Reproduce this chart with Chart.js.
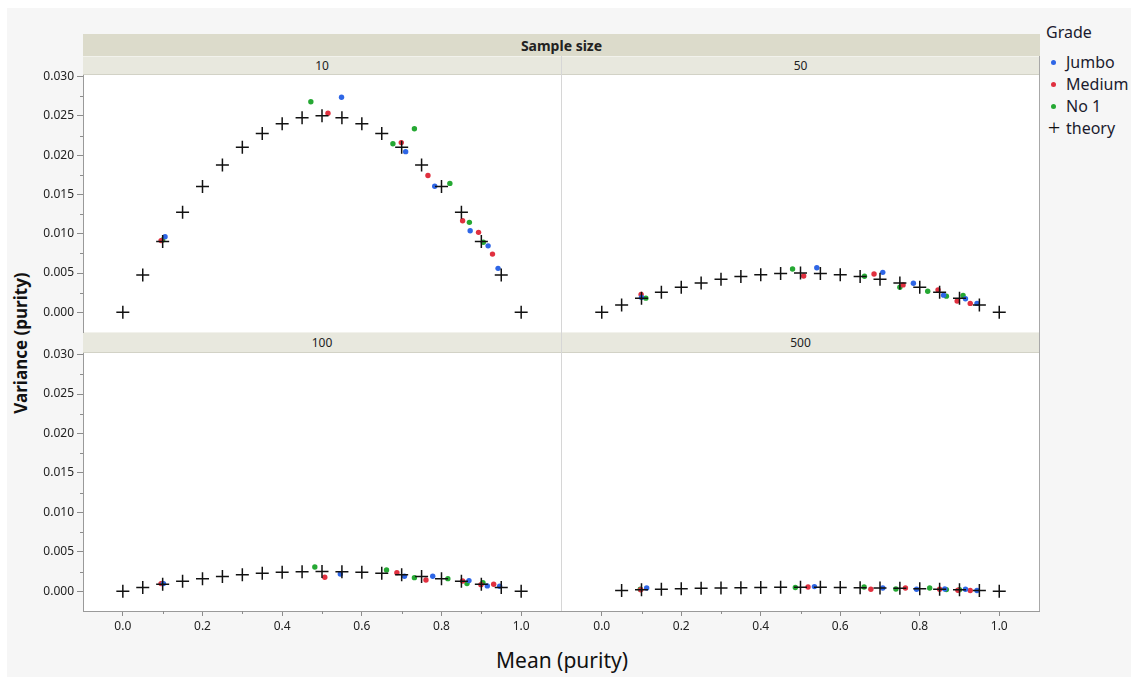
<!DOCTYPE html>
<html>
<head>
<meta charset="utf-8">
<script src="https://cdn.jsdelivr.net/npm/chart.js@4.4.1/dist/chart.umd.min.js"></script>
<style>
  html, body { margin:0; padding:0; background:#ffffff; }
  #root { position:relative; width:1131px; height:680px; overflow:hidden; font-family:"Noto Sans", "Open Sans", sans-serif; color:#222; }
  .abs { position:absolute; }
  #bg { left:7px; top:8px; width:1124px; height:669px; background:#f6f6f6; }
  #plotbg { left:83px; top:56px; width:957px; height:556px; background:#ffffff; border-right:1px solid #a8a8a8; box-sizing:border-box; }
  .strip { display:flex; align-items:center; justify-content:center; font-size:12px; color:#222; box-sizing:border-box; }
  #s0 { left:83px; top:34px; width:957px; height:22px; background:#dcdbcb; font-weight:bold; font-size:14px; }
  .s1 { background:#e8e8de; border-bottom:1px solid #d2d2c6; border-top:1px solid #f2f2ec; }
  #vline { left:561px; top:56px; width:1px; height:556px; background:#d6d6d6; }
  canvas { position:absolute; left:0; top:0; }
  #ytitle { left:20px; top:343px; transform:translate(-50%,-50%) rotate(-90deg); font-weight:bold; font-size:17px; white-space:nowrap; color:#111; }
  #xtitle { left:562px; top:660px; transform:translate(-50%,-50%); font-size:21px; white-space:nowrap; color:#111; }
  #legend { left:1046px; top:20px; font-size:16px; color:#1b1b2e; }
  #legend .title { height:24px; line-height:24px; font-size:16px; margin-bottom:7px; }
  #legend .row { height:22px; line-height:22px; position:relative; padding-left:20px; white-space:nowrap; }
  #legend .dot { position:absolute; left:5px; top:9px; width:5px; height:5px; border-radius:50%; }
  #legend .plus { position:absolute; left:0px; top:0px; width:16px; text-align:center; font-size:22px; font-weight:300; color:#111; line-height:21px; }
</style>
</head>
<body>
<div id="root">
  <div id="bg" class="abs"></div>
  <div id="plotbg" class="abs"></div>
  <div id="s0" class="abs strip">Sample size</div>
  <div class="abs strip s1" style="left:83px;top:56px;width:478px;height:19px;">10</div>
  <div class="abs strip s1" style="left:562px;top:56px;width:477px;height:19px;">50</div>
  <div class="abs strip s1" style="left:83px;top:332px;width:478px;height:21px;">100</div>
  <div class="abs strip s1" style="left:562px;top:332px;width:477px;height:21px;">500</div>
  <div id="vline" class="abs"></div>
  <div id="ytitle" class="abs">Variance (purity)</div>
  <div id="xtitle" class="abs">Mean (purity)</div>
  <div id="legend" class="abs">
    <div class="title">Grade</div>
    <div class="row"><span class="dot" style="background:#2e66e6"></span>Jumbo</div>
    <div class="row"><span class="dot" style="background:#e0303f"></span>Medium</div>
    <div class="row"><span class="dot" style="background:#25a833"></span>No 1</div>
    <div class="row"><span class="plus">+</span>theory</div>
  </div>
  <canvas id="c10" width="1131" height="680"></canvas>
  <canvas id="c50" width="1131" height="680"></canvas>
  <canvas id="c100" width="1131" height="680"></canvas>
  <canvas id="c500" width="1131" height="680"></canvas>
</div>
<script>
// ---------- data ----------
const panels = ['10', '50', '100', '500'];
const grades = ['Jumbo', 'Medium', 'No 1'];
const xTickValues = [0, 0.2, 0.4, 0.6, 0.8, 1.0];
const xTickLabels = ['0.0', '0.2', '0.4', '0.6', '0.8', '1.0'];
const yTickValues = [0, 0.005, 0.01, 0.015, 0.02, 0.025, 0.03];
const yTickLabels = ['0.000', '0.005', '0.010', '0.015', '0.020', '0.025', '0.030'];
const xMinor = [0.1, 0.3, 0.5, 0.7, 0.9];
const yMinor = [0.0025, 0.0075, 0.0125, 0.0175, 0.0225, 0.0275];

const theoryX = [0, 0.05, 0.1, 0.15, 0.2, 0.25, 0.3, 0.35, 0.4, 0.45, 0.5, 0.55, 0.6, 0.65, 0.7, 0.75, 0.8, 0.85, 0.9, 0.95, 1.0];
const theory10 = [0, 0.00475, 0.009, 0.01275, 0.016, 0.01875, 0.021, 0.02275, 0.024, 0.02475, 0.025, 0.02475, 0.024, 0.02275, 0.021, 0.01875, 0.016, 0.01275, 0.009, 0.00475, 0];
const theory50 = [0, 0.00095, 0.0018, 0.00255, 0.0032, 0.00375, 0.0042, 0.00455, 0.0048, 0.00495, 0.005, 0.00495, 0.0048, 0.00455, 0.0042, 0.00375, 0.0032, 0.00255, 0.0018, 0.00095, 0];
const theory100 = [0, 0.000475, 0.0009, 0.001275, 0.0016, 0.001875, 0.0021, 0.002275, 0.0024, 0.002475, 0.0025, 0.002475, 0.0024, 0.002275, 0.0021, 0.001875, 0.0016, 0.001275, 0.0009, 0.000475, 0];
const theory500 = [null, 0.000095, 0.00018, 0.000255, 0.00032, 0.000375, 0.00042, 0.000455, 0.00048, 0.000495, 0.0005, 0.000495, 0.00048, 0.000455, 0.00042, 0.000375, 0.00032, 0.000255, 0.00018, 0.000095, 0];

const jumbo10  = [[0.106, 0.00963], [0.549, 0.02736], [0.710, 0.02045], [0.783, 0.01604], [0.872, 0.01039], [0.917, 0.00846], [0.942, 0.00560]];
const medium10 = [[0.096, 0.00913], [0.515, 0.02534], [0.699, 0.02160], [0.766, 0.01742], [0.853, 0.01166], [0.893, 0.01018], [0.928, 0.00741]];
const no1_10   = [[0.100, 0.00920], [0.472, 0.02680], [0.678, 0.02146], [0.732, 0.02336], [0.821, 0.01641], [0.870, 0.01145], [0.905, 0.00892]];

const jumbo50  = [[0.100, 0.00190], [0.541, 0.00568], [0.707, 0.00509], [0.784, 0.00370], [0.860, 0.00219], [0.915, 0.00173], [0.944, 0.00114]];
const medium50 = [[0.099, 0.00227], [0.508, 0.00463], [0.685, 0.00488], [0.758, 0.00349], [0.846, 0.00286], [0.894, 0.00143], [0.927, 0.00114]];
const no1_50   = [[0.111, 0.00181], [0.480, 0.00551], [0.661, 0.00459], [0.750, 0.00320], [0.820, 0.00269], [0.867, 0.00206], [0.909, 0.00215]];

const jumbo100  = [[0.102, 0.00097], [0.546, 0.00219], [0.707, 0.00190], [0.778, 0.00190], [0.869, 0.00135], [0.915, 0.00068], [0.946, 0.00063]];
const medium100 = [[0.096, 0.00097], [0.507, 0.00177], [0.688, 0.00236], [0.761, 0.00143], [0.853, 0.00131], [0.899, 0.00084], [0.931, 0.00089]];
const no1_100   = [[0.099, 0.00100], [0.482, 0.00308], [0.662, 0.00270], [0.732, 0.00173], [0.816, 0.00160], [0.864, 0.00097], [0.904, 0.00110]];

const jumbo500  = [[0.113, 0.00042], [0.535, 0.00059], [0.707, 0.00042], [0.792, 0.00025], [0.863, 0.00029], [0.915, 0.00025], [0.944, 0.00009]];
const medium500 = [[0.098, 0.00020], [0.519, 0.00054], [0.677, 0.00025], [0.764, 0.00042], [0.850, 0.00025], [0.896, 0.00013], [0.927, 0.00009]];
const no1_500   = [[0.097, 0.00025], [0.487, 0.00047], [0.660, 0.00054], [0.740, 0.00029], [0.825, 0.00042], [0.867, 0.00021], [0.900, 0.00020]];

// ---------- styles ----------
const gradeColors = { 'Jumbo': '#2e66e6', 'Medium': '#e0303f', 'No 1': '#25a833' };
const X_MIN = -0.1, X_MAX = 1.1, Y_MIN = -0.0025, Y_MAX = 0.0302;

const minorTicks = {
  id: 'minorTicks',
  afterDraw(chart, args, opts) {
    const ctx = chart.ctx;
    ctx.save();
    ctx.strokeStyle = '#8c8c8c';
    ctx.lineWidth = 1;
    if (opts.y) {
      const s = chart.scales.y;
      yMinor.forEach(v => {
        const p = Math.round(s.getPixelForValue(v)) + 0.5;
        ctx.beginPath(); ctx.moveTo(chart.chartArea.left - 3, p); ctx.lineTo(chart.chartArea.left, p); ctx.stroke();
      });
    }
    if (opts.x) {
      const s = chart.scales.x;
      xMinor.forEach(v => {
        const p = Math.round(s.getPixelForValue(v)) + 0.5;
        ctx.beginPath(); ctx.moveTo(p, chart.chartArea.bottom); ctx.lineTo(p, chart.chartArea.bottom + 3); ctx.stroke();
      });
    }
    ctx.restore();
  }
};

function pts(arr) { return arr.map(d => ({ x: d[0], y: d[1] })); }
function theoryPts(ys) {
  const out = [];
  theoryX.forEach((x, i) => { if (ys[i] !== null) out.push({ x: x, y: ys[i] }); });
  return out;
}

function makePanel(id, series, theory, box, showX, showY) {
  const datasets = [{
    label: 'theory', data: theoryPts(theory), order: 0,
    pointStyle: 'cross', pointRadius: 6.5, pointBorderWidth: 1.5,
    pointBorderColor: '#111111', borderColor: '#111111', showLine: false
  }];
  series.forEach((s, i) => {
    datasets.push({
      label: grades[i], data: pts(s), order: i + 1,
      pointStyle: 'circle', pointRadius: 2.7, pointBorderWidth: 0,
      backgroundColor: gradeColors[grades[i]], borderColor: gradeColors[grades[i]], showLine: false
    });
  });
  const yW = 45, xH = 30;
  const padding = {
    left: box.left - (showY ? yW : 0),
    top: box.top,
    right: 1131 - box.right,
    bottom: 680 - box.bottom - (showX ? xH : 0)
  };
  new Chart(document.getElementById(id), {
    type: 'scatter',
    data: { datasets },
    options: {
      responsive: false, animation: false, devicePixelRatio: 1,
      layout: { padding },
      plugins: { legend: { display: false }, tooltip: { enabled: false }, minorTicks: { x: showX, y: showY } },
      scales: {
        x: {
          type: 'linear', min: X_MIN, max: X_MAX, display: showX,
          afterBuildTicks: s => { s.ticks = xTickValues.map(v => ({ value: v })); },
          afterFit: s => { s.height = showX ? xH : 0; },
          grid: { display: true, drawOnChartArea: false, drawTicks: true, tickLength: 5, color: '#8c8c8c' },
          border: { display: true, color: '#9a9a9a', width: 1 },
          ticks: {
            padding: 3, maxRotation: 0, autoSkip: false,
            color: '#222', font: { family: 'Noto Sans', size: 12 },
            callback: (v, i) => xTickLabels[i]
          }
        },
        y: {
          type: 'linear', min: Y_MIN, max: Y_MAX, display: showY,
          afterBuildTicks: s => { s.ticks = yTickValues.map(v => ({ value: v })); },
          afterFit: s => { s.width = showY ? yW : 0; },
          grid: { display: true, drawOnChartArea: false, drawTicks: true, tickLength: 6, color: '#8c8c8c' },
          border: { display: true, color: '#9a9a9a', width: 1 },
          ticks: {
            padding: 3, autoSkip: false,
            color: '#222', font: { family: 'Noto Sans', size: 12 },
            callback: (v, i) => yTickLabels[i]
          }
        }
      }
    },
    plugins: [minorTicks]
  });
}

makePanel('c10',  [jumbo10, medium10, no1_10],    theory10,  { left: 83,  top: 75,  right: 561,  bottom: 332 }, false, true);
makePanel('c50',  [jumbo50, medium50, no1_50],    theory50,  { left: 562, top: 75,  right: 1039, bottom: 332 }, false, false);
makePanel('c100', [jumbo100, medium100, no1_100], theory100, { left: 83,  top: 353, right: 561,  bottom: 611 }, true, true);
makePanel('c500', [jumbo500, medium500, no1_500], theory500, { left: 562, top: 353, right: 1039, bottom: 611 }, true, false);
</script>
</body>
</html>
